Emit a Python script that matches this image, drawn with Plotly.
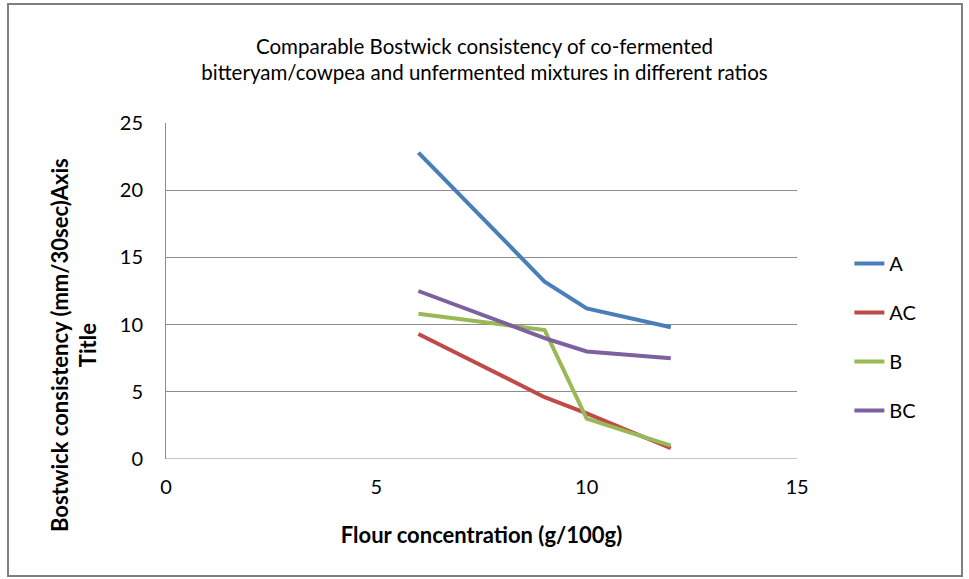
import plotly.graph_objects as go

x_vals = [6, 9, 10, 12]
series_names = ["A", "AC", "B", "BC"]
A = [22.8, 13.2, 11.2, 9.8]
AC = [9.3, 4.6, 3.4, 0.8]
B = [10.8, 9.6, 3.0, 1.0]
BC = [12.5, 9.0, 8.0, 7.5]
colors = ["#4a7ebb", "#be4b48", "#98b954", "#7d60a0"]

FONT = "Lato, 'Open Sans', sans-serif"

fig = go.Figure()
for name, ys, c in zip(series_names, [A, AC, B, BC], colors):
    fig.add_trace(go.Scatter(x=x_vals, y=ys, name=name, mode="lines",
                             line=dict(color=c, width=4), legendgroup=name))

fig.update_layout(
    width=969, height=579,
    paper_bgcolor="white", plot_bgcolor="white",
    margin=dict(l=166, r=172, t=123, b=120),
    font=dict(family=FONT, size=20, color="#000"),
    title=dict(text="Comparable Bostwick consistency of co-fermented<br>bitteryam/cowpea and unfermented mixtures in different ratios",
               x=0.5, xanchor="center", y=0.907, yanchor="middle",
               font=dict(family=FONT, size=20.5, color="#000")),
    xaxis=dict(range=[0, 15], tickvals=[0, 5, 10, 15], showgrid=False,
               zeroline=False, showline=False, ticks="",
               tickfont=dict(size=20), ticklabelstandoff=14,
               title=dict(text="<b>Flour concentration (g/100g)</b>", font=dict(size=22), standoff=30)),
    yaxis=dict(range=[0, 25], tickvals=[0, 5, 10, 15, 20, 25], showgrid=True,
               gridcolor="#8c8c8c", gridwidth=1, zeroline=False,
               showline=True, linecolor="#8c8c8c", linewidth=1, ticks="",
               tickfont=dict(size=20), ticklabelstandoff=18),
    legend=dict(x=1.083, xanchor="left", y=0.363, yanchor="middle", xref="paper", yref="paper",
                font=dict(size=20), tracegroupgap=20, bgcolor="rgba(0,0,0,0)",
                itemwidth=30),
    showlegend=True,
)
# y-axis title (positioned like the original, below plot centre)
fig.add_annotation(text="<b>Bostwick consistency (mm/30sec)Axis<br>Title</b>",
                   xref="paper", yref="paper", x=-0.146, y=0.339,
                   xanchor="center", yanchor="middle", textangle=-90,
                   showarrow=False, font=dict(size=22, family=FONT, color="#000"))
# gridline at y=0 drawn as bottom axis line
fig.add_shape(type="line", xref="paper", yref="y", x0=0, x1=1, y0=0, y1=0,
              line=dict(color="#8c8c8c", width=1))
# outer frame
fig.add_shape(type="rect", xref="paper", yref="paper",
              x0=-158/631, x1=(962-166)/631, y0=(459-576)/336, y1=(459-4)/336,
              line=dict(color="#7f7f7f", width=2))

fig.write_html("out.html")
